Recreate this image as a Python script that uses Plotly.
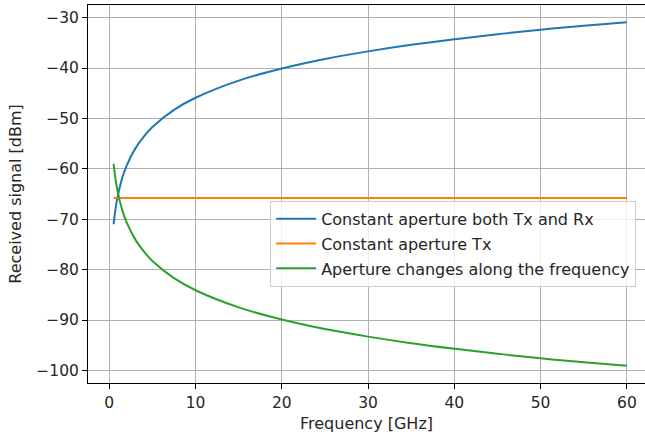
import plotly.graph_objects as go

freq_ghz = [0.5, 0.75, 1, 1.5, 2, 3, 4, 5, 7.5, 10, 15, 20, 25, 30, 35, 40, 45, 50, 55, 60]
both_tx_rx = [-71.0, -67.6, -65.2, -61.8, -59.4, -56.0, -53.6, -51.7, -48.3, -45.9,
              -42.5, -40.1, -38.2, -36.7, -35.4, -34.3, -33.3, -32.4, -31.6, -30.9]
const_tx = [-65.8] * len(freq_ghz)
aperture_changes = [-59.0, -62.4, -64.8, -68.2, -70.6, -74.0, -76.4, -78.3, -81.7, -84.1,
                    -87.5, -89.9, -91.8, -93.3, -94.6, -95.7, -96.7, -97.6, -98.4, -99.1]

names = ["Constant aperture both Tx and Rx", "Constant aperture Tx",
         "Aperture changes along the frequency"]
colors = ["#1f77b4", "#ff7f0e", "#2ca02c"]
x_ticks = [0, 10, 20, 30, 40, 50, 60]
y_ticks = [-30, -40, -50, -60, -70, -80, -90, -100]

fig = go.Figure()
for i, (ys, nm, c) in enumerate(zip([both_tx_rx, const_tx, aperture_changes], names, colors)):
    fig.add_trace(go.Scatter(x=freq_ghz, y=ys, mode="lines", name=nm, legendgroup=f"g{i}",
                             line=dict(color=c, width=2, shape="spline", smoothing=1.0)))

tick_font = dict(family="DejaVu Sans", size=15.5, color="#262626")
title_font = dict(family="DejaVu Sans", size=16, color="#262626")
axis_common = dict(showgrid=True, gridcolor="#b0b0b0", gridwidth=1, zeroline=False,
                   showline=True, linecolor="black", linewidth=1,
                   ticks="outside", ticklen=5, tickcolor="black", tickwidth=1,
                   tickfont=tick_font)

fig.update_layout(
    width=645, height=439,
    margin=dict(l=88, r=0, t=5, b=56),
    paper_bgcolor="white", plot_bgcolor="white",
    font=title_font,
    showlegend=True,
    legend=dict(x=0.327, y=0.482, xanchor="left", yanchor="top",
                bgcolor="rgba(255,255,255,0.8)", bordercolor="#cccccc", borderwidth=1,
                font=dict(family="DejaVu Sans", size=16, color="#262626"),
                tracegroupgap=1, itemwidth=40),
    xaxis=dict(range=[-2.47, 62.1], tickvals=x_ticks, mirror=True,
               title=dict(text="Frequency [GHz]", font=title_font, standoff=7), **axis_common),
    yaxis=dict(range=[-102.5, -27.5], tickvals=y_ticks,
               title=dict(text="Received signal [dBm]", font=title_font, standoff=10), **axis_common),
)

fig.write_html("out.html")
